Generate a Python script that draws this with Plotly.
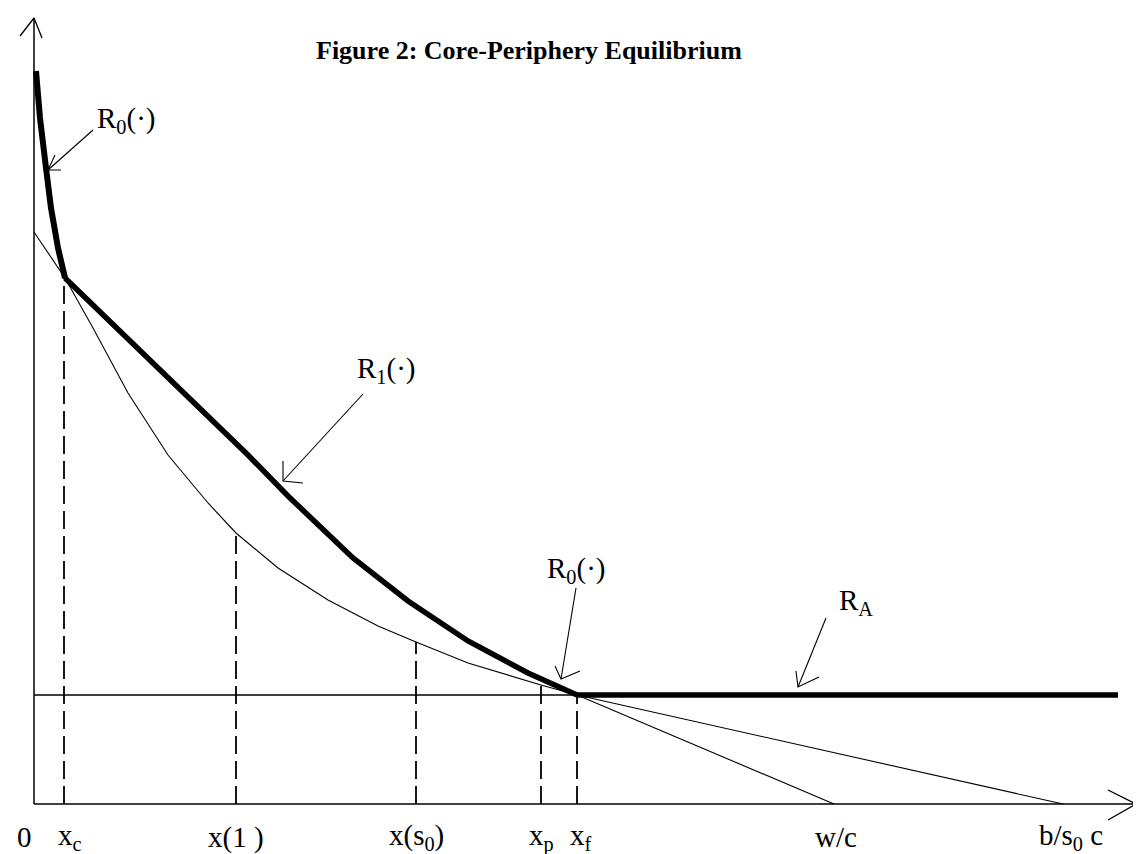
import plotly.graph_objects as go

# ---- diagram data (diagram units: origin at the axes' corner, y up) ----
y_axis_x = [0, 0]
y_axis_y = [0, 786]
y_head_x = [-14, 0, 8]
y_head_y = [768, 786, 766]
x_axis_x = [0, 1102]
x_axis_y = [0, 0]
x_head_x = [1074, 1102, 1074]
x_head_y = [14, 0, -16]

# R0 (steep thick part)
r0_x = [2, 6, 12, 17, 24, 31]
r0_y = [733, 686, 636, 596, 556, 526]
# R1 (thick)
r1_x = [31, 109, 214, 254, 319, 374, 434, 494, 543]
r1_y = [526, 451, 349, 308, 246, 203, 163, 131, 109]
# R1 extension to w/c
r1_ext_x = [543, 800]
r1_ext_y = [109, 0]
# thin convex curve (R0 extension) and its continuation to b/s0c
conv_x = [0, 31, 59, 94, 134, 174, 202, 244, 294, 344, 382, 434, 507, 543, 1029]
conv_y = [572, 526, 476, 411, 349, 301, 271, 236, 204, 178, 162, 141, 119, 109, 0]
# R_A
ra_level = 109
ra_thin_x = [0, 1084]
ra_thick_x = [543, 1084]

# dashed verticals: x position and top
drop_x = [30, 202, 382, 507, 543]
drop_top = [526, 271, 162, 119, 109]

# tick labels
tick_text = ["0", "x<sub>c</sub>", "x(1 )", "x(s<sub>0</sub>)", "x<sub>p</sub>",
             "x<sub>f</sub>", "w/c", "b/s<sub>0</sub> c"]
tick_pos = [-10, 36, 202, 382, 507, 547, 802, 1037]
tick_y = -33

# pointer arrows: (start, tip, barb1, barb2)
arrows = [
    ((59, 674), (14, 634), (21, 649), (27, 634)),
    ((329, 410), (249, 323), (249, 343), (269, 321)),
    ((542, 216), (527, 125), (521, 138), (546, 133)),
    ((792, 186), (764, 117), (762, 133), (785, 127)),
]
arrow_labels = ["R<sub>0</sub>(·)", "R<sub>1</sub>(·)", "R<sub>0</sub>(·)", "R<sub>A</sub>"]
arrow_label_pos = [(92, 684), (352, 434), (542, 234), (822, 202)]

title = "Figure 2: Core-Periphery Equilibrium"

fig = go.Figure()


def add_line(xs, ys, width=1.2, dash="solid"):
    fig.add_trace(go.Scatter(x=xs, y=ys, mode="lines",
                             line=dict(color="black", width=width, dash=dash),
                             hoverinfo="skip", showlegend=False))


add_line(y_axis_x, y_axis_y, 1.5)
add_line(y_head_x, y_head_y, 1.3)
add_line(x_axis_x, x_axis_y, 1.5)
add_line(x_head_x, x_head_y, 1.3)

add_line(conv_x, conv_y, 1.1)
add_line(r1_ext_x, r1_ext_y, 1.1)
add_line(ra_thin_x, [ra_level, ra_level], 1.3)
for dx, top in zip(drop_x, drop_top):
    add_line([dx, dx], [0, top], 1.8, "18px,7px")
add_line(r0_x, r0_y, 6)
add_line(r1_x, r1_y, 5.5)
add_line(ra_thick_x, [ra_level, ra_level], 5.5)

for start, tip, b1, b2 in arrows:
    add_line([start[0], tip[0]], [start[1], tip[1]], 1.1)
    add_line([b1[0], tip[0], b2[0]], [b1[1], tip[1], b2[1]], 1.1)

label_font = dict(family="Liberation Serif", size=29, color="black")
for txt, (lx, ly) in zip(arrow_labels, arrow_label_pos):
    fig.add_annotation(x=lx, y=ly, text=txt, showarrow=False, font=label_font,
                       xanchor="center", yanchor="middle")
for txt, px in zip(tick_text, tick_pos):
    fig.add_annotation(x=px, y=tick_y, text=txt, showarrow=False, font=label_font,
                       xanchor="center", yanchor="middle")

fig.add_annotation(x=495, y=754, text="<b>" + title + "</b>", showarrow=False,
                   font=dict(family="Liberation Serif", size=26, color="black"),
                   xanchor="center", yanchor="middle")

fig.update_layout(
    width=1141, height=854,
    margin=dict(l=0, r=0, t=0, b=0),
    paper_bgcolor="white", plot_bgcolor="white",
    xaxis=dict(range=[-26, 1115], visible=False, fixedrange=True),
    yaxis=dict(range=[-58, 796], visible=False, fixedrange=True),
)

fig.write_html("out.html")
